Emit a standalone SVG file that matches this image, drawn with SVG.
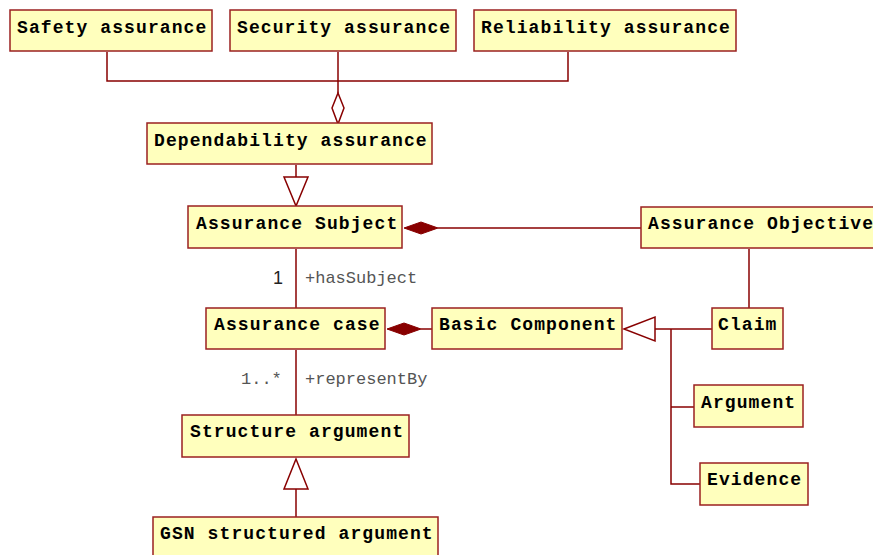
<svg xmlns="http://www.w3.org/2000/svg" width="873" height="555" viewBox="0 0 873 555">
  <style>
    .box { fill: #ffffbd; stroke: #9b2020; stroke-width: 1.5; }
    .name { font-family: "Liberation Mono", "DejaVu Sans Mono", monospace; font-weight: bold; font-size: 18px; letter-spacing: 1.1px; fill: #000; }
    .role { font-family: "Liberation Mono", "DejaVu Sans Mono", monospace; font-size: 17px; fill: #555; }
    .mult { font-family: "Liberation Sans", sans-serif; font-size: 18px; fill: #222; }
    .line { fill: none; stroke: #880000; stroke-width: 1.5; }
    .hollow { fill: #fff; stroke: #880000; stroke-width: 1.5; }
    .solid { fill: #880000; stroke: #880000; stroke-width: 1; }
  </style>

  <!-- connectors -->
  <g id="connectors">
    <!-- aggregation of the three assurance kinds into dependability -->
    <polyline class="line" points="107,52 107,81 568,81 568,52"/>
    <line class="line" x1="338" y1="52" x2="338" y2="93"/>
    <polygon class="hollow" points="338,93 344,108 338,124 332,108"/>
    <!-- Dependability -> Assurance Subject (generalization) -->
    <line class="line" x1="296" y1="165" x2="296" y2="177"/>
    <polygon class="hollow" points="284,177 308,177 296,206"/>
    <!-- Assurance Objective composed into Assurance Subject -->
    <line class="line" x1="438" y1="228" x2="641" y2="228"/>
    <polygon class="solid" points="404,228 421,222 438,228 421,234"/>
    <!-- Assurance Subject — Assurance case -->
    <line class="line" x1="296" y1="249" x2="296" y2="308"/>
    <!-- Basic Component composed into Assurance case -->
    <line class="line" x1="421" y1="329" x2="432" y2="329"/>
    <polygon class="solid" points="387,329 404,323 421,329 404,335"/>
    <!-- Assurance Objective — Claim -->
    <line class="line" x1="749" y1="249" x2="749" y2="308"/>
    <!-- Claim / Argument / Evidence -> Basic Component (generalization) -->
    <polyline class="line" points="712,329 655,329"/>
    <polyline class="line" points="671,329 671,484 700,484"/>
    <line class="line" x1="671" y1="407" x2="694" y2="407"/>
    <polygon class="hollow" points="624,329 655,317 655,341"/>
    <!-- Assurance case — Structure argument -->
    <line class="line" x1="296" y1="350" x2="296" y2="415"/>
    <!-- GSN structured argument -> Structure argument (generalization) -->
    <line class="line" x1="296" y1="489" x2="296" y2="517"/>
    <polygon class="hollow" points="284,489 308,489 296,459"/>
    <!-- end labels -->
    <text class="mult" x="273" y="284">1</text>
    <text class="role" x="305" y="283">+hasSubject</text>
    <text class="role" x="241" y="384">1..*</text>
    <text class="role" x="305" y="384">+representBy</text>
  </g>

  <g id="safety">
    <rect class="box" x="10" y="10" width="202" height="41"/>
    <text class="name" x="17" y="33">Safety assurance</text>
  </g>
  <g id="security">
    <rect class="box" x="230" y="10" width="226" height="41"/>
    <text class="name" x="237" y="33">Security assurance</text>
  </g>
  <g id="reliability">
    <rect class="box" x="474" y="10" width="262" height="41"/>
    <text class="name" x="481" y="33">Reliability assurance</text>
  </g>
  <g id="dependability">
    <rect class="box" x="147" y="123" width="285" height="41"/>
    <text class="name" x="154" y="146">Dependability assurance</text>
  </g>
  <g id="assurance-subject">
    <rect class="box" x="188" y="206" width="214" height="42"/>
    <text class="name" x="196" y="229">Assurance Subject</text>
  </g>
  <g id="assurance-objective">
    <rect class="box" x="641" y="207" width="245" height="41"/>
    <text class="name" x="648" y="229">Assurance Objective</text>
  </g>
  <g id="assurance-case">
    <rect class="box" x="206" y="308" width="179" height="41"/>
    <text class="name" x="214" y="330">Assurance case</text>
  </g>
  <g id="basic-component">
    <rect class="box" x="432" y="308" width="190" height="41"/>
    <text class="name" x="439" y="330">Basic Component</text>
  </g>
  <g id="claim">
    <rect class="box" x="712" y="308" width="71" height="41"/>
    <text class="name" x="718" y="330">Claim</text>
  </g>
  <g id="argument">
    <rect class="box" x="694" y="385" width="109" height="42"/>
    <text class="name" x="701" y="408">Argument</text>
  </g>
  <g id="evidence">
    <rect class="box" x="700" y="463" width="108" height="42"/>
    <text class="name" x="707" y="485">Evidence</text>
  </g>
  <g id="structure-argument">
    <rect class="box" x="182" y="415" width="227" height="42"/>
    <text class="name" x="190" y="437">Structure argument</text>
  </g>
  <g id="gsn-structured-argument">
    <rect class="box" x="153" y="517" width="285" height="45"/>
    <text class="name" x="160" y="539">GSN structured argument</text>
  </g>
</svg>
